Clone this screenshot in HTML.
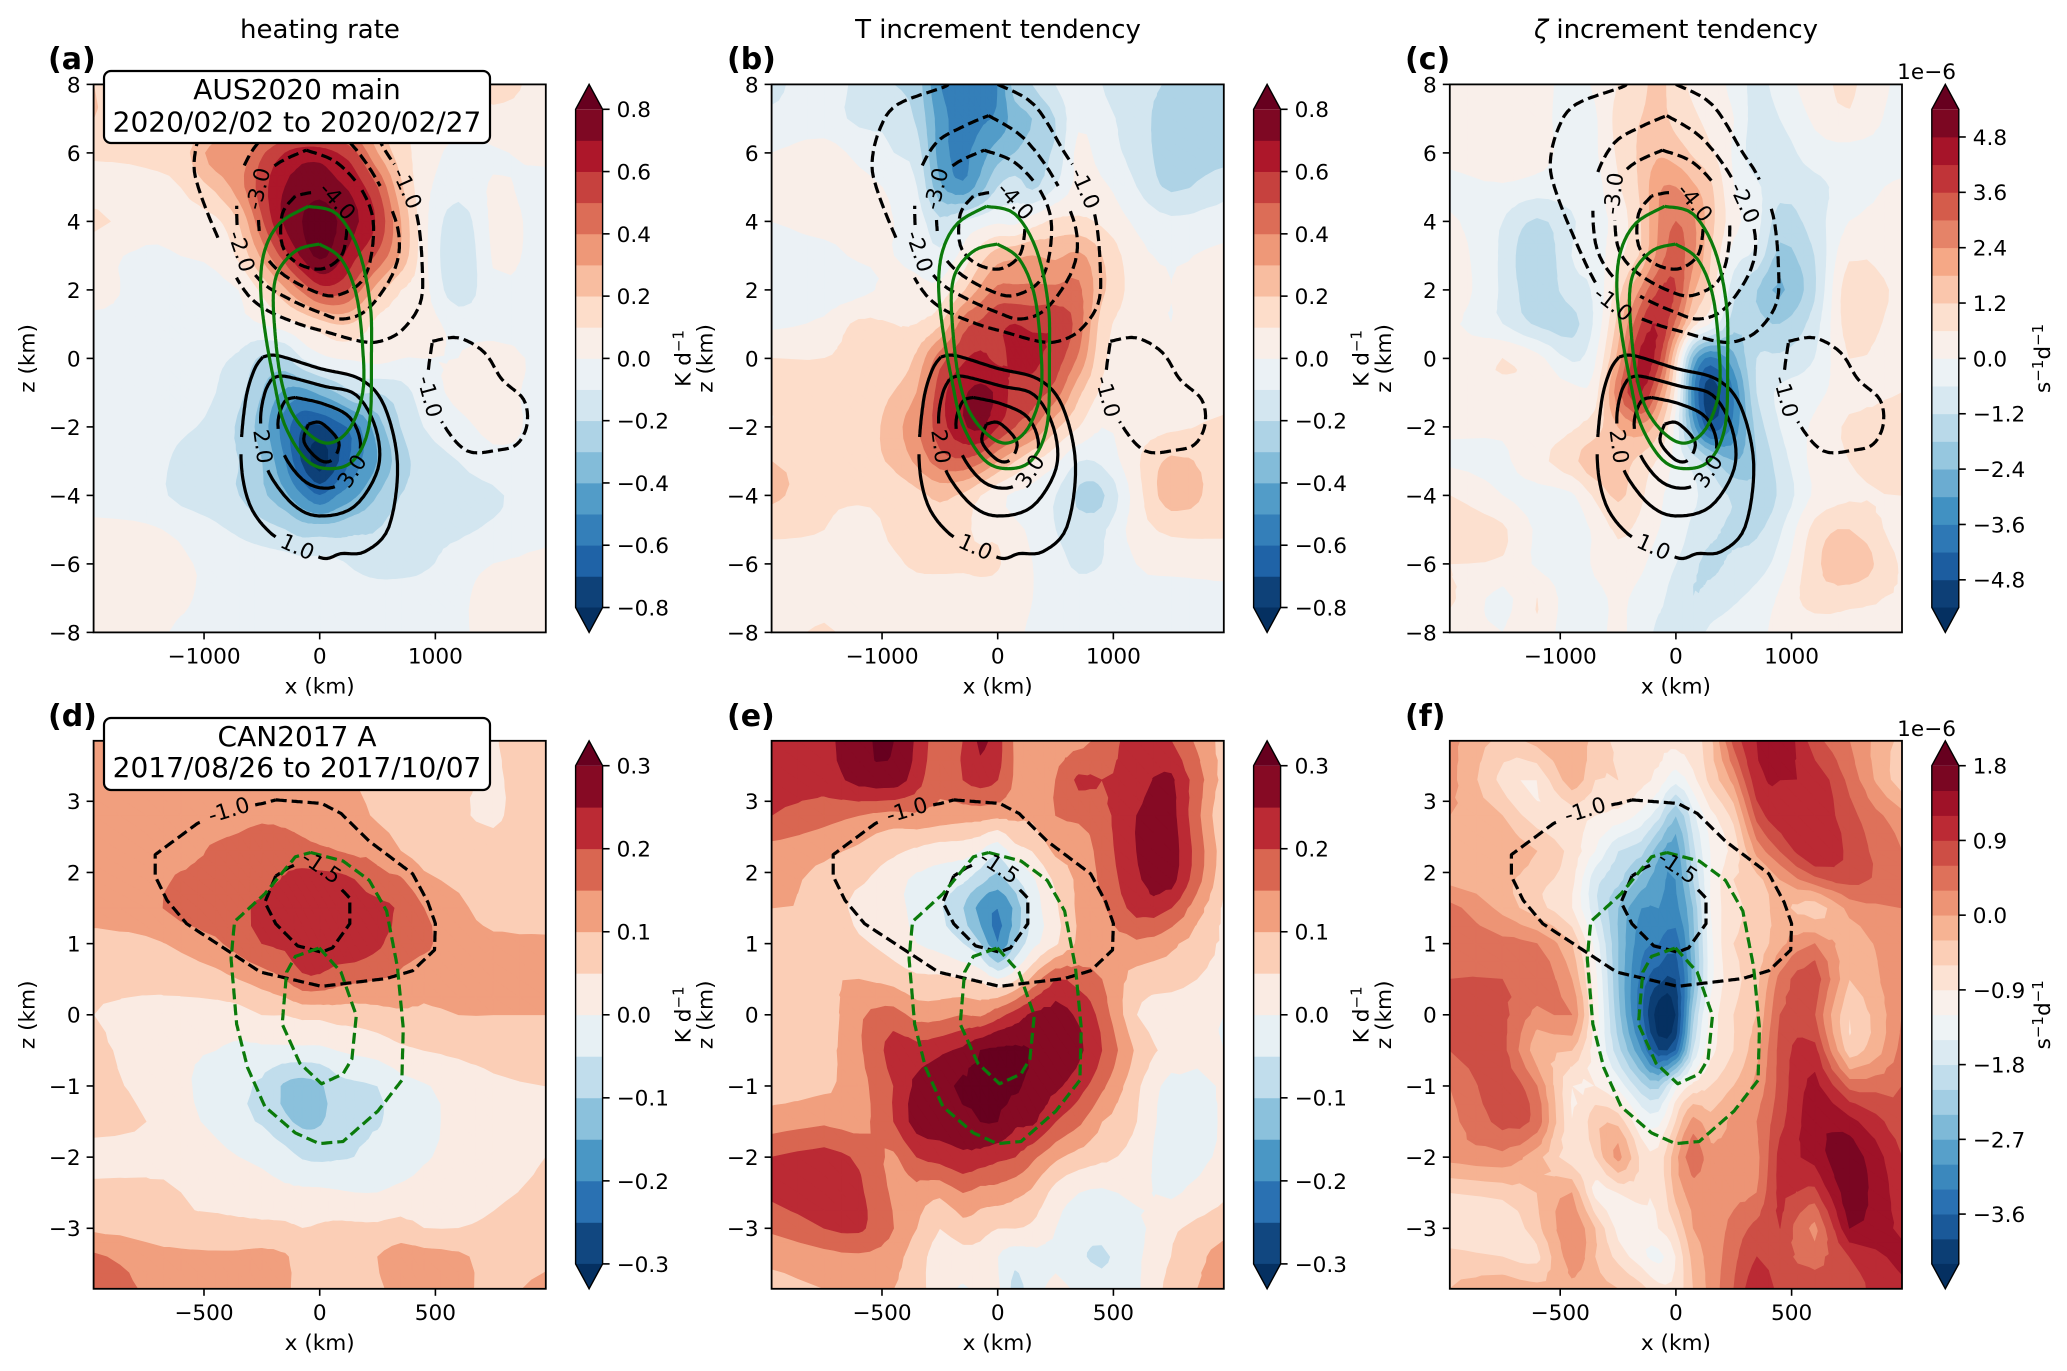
<!DOCTYPE html>
<html lang="en">
<head>
<meta charset="utf-8">
<title>Heating rate and increment tendency composites</title>
<style>
html,body{margin:0;padding:0;background:#fff;}
svg{display:block;font-family:"DejaVu Sans","Liberation Sans",sans-serif;}
</style>
</head>
<body>
<svg id="figure" xmlns="http://www.w3.org/2000/svg" width="2067" height="1371" viewBox="0 0 2067 1371">
<rect width="2067" height="1371" fill="#fff"/>
<defs id="defs"></defs>
<g id="plots"></g>
<g font-size="26" text-anchor="middle">
<text x="320" y="38">heating rate</text>
<text x="998" y="38">T increment tendency</text>
<text x="1676" y="38"><tspan font-style="italic">ζ</tspan> increment tendency</text>
</g>
<g font-size="30" font-weight="bold">
<text x="48" y="69">(a)</text>
<text x="727" y="69">(b)</text>
<text x="1405" y="69">(c)</text>
<text x="48" y="726">(d)</text>
<text x="727" y="726">(e)</text>
<text x="1405" y="726">(f)</text>
</g>
<g>
<rect x="104" y="71" width="386" height="72" rx="7" fill="#fff" stroke="#000" stroke-width="2.2"/>
<text x="297" y="99" font-size="28" text-anchor="middle">AUS2020 main</text>
<text x="297" y="131.5" font-size="28" text-anchor="middle">2020/02/02 to 2020/02/27</text>
</g>
<g>
<rect x="104" y="718" width="386" height="72" rx="7" fill="#fff" stroke="#000" stroke-width="2.2"/>
<text x="297" y="746" font-size="28" text-anchor="middle">CAN2017 A</text>
<text x="297" y="777" font-size="28" text-anchor="middle">2017/08/26 to 2017/10/07</text>
</g>
<g font-size="21.6" text-anchor="end">
<text x="1956" y="79">1e−6</text>
<text x="1956" y="736">1e−6</text>
</g>
</svg>
<script>
/* ---------- grids ---------- */
const xGridTop=[-1955,-1500,-1200,-900,-700,-500,-300,-150,0,150,300,500,700,900,1200,1500,1955];
const zGridTop=[8,7,6,5,4,3,2,1,0,-1,-2,-3,-4,-5,-6,-7,-8];
const xGridBottom=[-977,-750,-600,-450,-350,-250,-150,-75,0,75,150,250,350,450,600,750,977];
const zGridBottom=[3.85,3.3,2.8,2.3,1.9,1.5,1.0,0.5,0,-0.5,-1,-1.5,-2,-2.5,-3,-3.4,-3.85];

/* ---------- fields, rows top to bottom ---------- */
const heatingAus=[
[.2,.12,.1,.1,.1,.15,.15,.15,.15,.15,.15,.12,.08,.05,.05,.15,.05],
[.2,.12,.1,.15,.2,.25,.3,.3,.3,.3,.25,.2,.12,.06,.04,.06,.04],
[.12,.12,.15,.35,.33,.48,.6,.65,.65,.6,.52,.3,.15,.05,-.03,-.01,.02],
[.05,.07,.1,.22,.35,.55,.7,.74,.76,.72,.66,.5,.22,.03,-.06,.01,-.03],
[.12,.05,.05,.08,.2,.48,.72,.8,.85,.8,.72,.58,.3,.03,-.16,.02,-.03],
[.03,-.02,0,.02,.12,.32,.55,.72,.82,.74,.62,.48,.28,.03,-.2,.01,-.03],
[.03,-.03,-.03,-.02,0,.12,.28,.42,.55,.55,.45,.25,.1,.03,-.17,-.02,-.03],
[-.02,-.02,-.02,-.02,-.02,0,.05,.1,.15,.2,.18,.06,.03,.03,-.03,-.03,-.03],
[-.03,-.03,-.04,-.08,-.12,-.22,-.22,-.1,-.03,0,.01,.03,0,0,0,.03,-.02],
[-.03,-.03,-.05,-.1,-.17,-.3,-.42,-.45,-.38,-.3,-.2,-.2,-.15,-.05,.02,.02,-.02],
[-.03,-.03,-.08,-.13,-.22,-.35,-.55,-.7,-.72,-.65,-.55,-.35,-.2,-.1,-.03,.02,-.02],
[-.03,-.04,-.13,-.18,-.2,-.3,-.5,-.72,-.85,-.72,-.55,-.4,-.25,-.15,-.1,-.03,-.02],
[-.02,-.05,-.13,-.17,-.2,-.28,-.38,-.5,-.6,-.5,-.42,-.3,-.2,-.16,-.14,-.12,-.02],
[.01,.01,-.02,-.08,-.12,-.16,-.2,-.25,-.25,-.25,-.22,-.2,-.15,-.13,-.12,-.08,-.02],
[.02,.03,.01,-.02,-.04,-.05,-.06,-.07,-.07,-.08,-.12,-.16,-.15,-.12,-.05,0,.02],
[.02,.03,.01,-.02,-.03,-.03,-.03,-.03,-.03,-.03,-.03,-.03,-.03,-.03,-.02,.04,.03],
[.03,.02,-.01,-.02,-.03,-.03,-.03,-.03,-.03,-.03,-.03,-.03,-.03,-.03,-.01,.02,.03]];

const tempAus=[
[-.12,-.05,-.13,-.2,-.25,-.5,-.55,-.55,-.5,-.25,-.2,-.1,-.03,-.1,-.15,-.22,-.3],
[-.08,-.06,-.12,-.12,-.22,-.45,-.55,-.52,-.48,-.35,-.3,-.2,-.02,-.08,-.14,-.28,-.28],
[0,.04,-.03,-.1,-.15,-.45,-.52,-.45,-.35,-.3,-.25,-.18,.03,-.05,-.14,-.26,-.24],
[.02,.04,.03,-.02,-.1,-.38,-.48,-.35,-.2,-.15,-.22,-.1,.03,.02,-.1,-.22,-.14],
[0,.03,.02,0,-.05,-.18,-.1,-.05,-.02,-.03,.05,.12,.12,.08,-.02,-.08,-.05],
[-.05,-.03,.01,0,-.03,-.08,.03,.15,.25,.28,.3,.28,.32,.2,.03,-.01,.02],
[-.06,-.06,-.03,.03,.03,.03,.18,.32,.42,.42,.42,.42,.42,.22,.05,0,.03],
[-.02,.02,.12,.1,.1,.18,.45,.52,.58,.6,.58,.58,.45,.15,.03,0,.04],
[.1,.1,.13,.12,.22,.45,.58,.62,.58,.62,.62,.55,.38,.12,.02,.02,.04],
[.12,.12,.12,.2,.3,.55,.68,.72,.68,.55,.55,.45,.22,.08,.02,.05,.06],
[.1,.12,.13,.25,.38,.55,.68,.72,.6,.5,.42,.22,.1,0,.05,.08,.12],
[.2,.15,.15,.22,.32,.45,.48,.42,.3,.2,.1,.02,-.1,-.08,.08,.22,.15],
[.22,.13,.12,.13,.17,.22,.18,.1,.03,-.02,-.03,-.1,-.22,-.22,.05,.25,.15],
[.12,.1,.05,.12,.14,.16,.12,.08,.08,.02,-.02,-.1,-.15,-.12,.05,.12,.12],
[.06,.06,.07,.08,.12,.13,.12,.12,.11,.04,0,-.06,-.12,-.1,0,.03,.03],
[.03,.04,.03,.03,.03,.02,.03,.05,.04,.02,0,-.04,-.05,-.03,-.02,-.04,-.02],
[.03,.12,.03,.02,.02,.02,.02,.02,.02,.01,-.01,-.03,-.03,-.02,-.02,-.02,-.02]];

const zetaAus=[
[.3,.2,.3,-.3,.1,.6,1.0,1.4,.8,.5,.3,-.2,-.8,-.3,.3,.7,-.2],
[.2,.3,.3,-.4,-.1,.8,1.2,1.4,1.0,.7,.4,0,-.9,-.6,.1,.5,-.3],
[.2,.6,.3,-.3,-.1,.7,1.3,1.7,1.5,1.1,.7,-.1,-1.0,-.9,-.3,-.2,-.3],
[-.2,-.1,-.3,-.3,-.2,.5,1.3,2.3,2.4,1.9,1.3,0,-.5,-1.0,-.8,-.3,.1],
[.1,-.6,-1.3,-.7,-.2,.2,1.2,2.4,3.0,2.5,1.4,.2,-.4,-1.5,-.9,0,.2],
[.3,-.7,-1.8,-.6,-.3,.4,1.3,2.6,3.3,2.5,1.2,-.3,-.8,-2.0,-1.2,.5,.2],
[.4,-.7,-1.6,-.9,-.5,.9,2.5,3.6,3.6,1.9,.9,-1.0,-1.8,-2.5,-1.3,1.0,.4],
[.1,-.6,-1.3,-1.4,-.5,1.4,3.6,4.2,2.8,.8,-.1,-1.6,-1.6,-1.8,-.9,.9,.3],
[.2,.6,.2,-.7,-.1,2.0,4.4,3.8,1.0,-2.5,-3.8,-2.6,-1.2,-1.1,-.6,.6,.2],
[.2,.4,.4,.2,.3,2.8,4.2,2.6,.3,-3.5,-5.2,-3.6,-1.2,-.5,-.2,.4,.6],
[.1,.1,.2,.5,.9,1.8,2.2,1.4,-.3,-2.8,-4.6,-3.4,-1.6,-.6,.1,.7,.7],
[-.1,-.1,.4,1.0,1.6,1.5,1.0,.5,-.2,-.9,-1.6,-2.4,-1.8,-.9,.2,.6,1.0],
[.6,0,-.2,-.1,.7,1.3,.7,.1,-.2,-.5,-.9,-1.3,-1.6,-1.1,.1,.5,.6],
[1.0,.7,-.1,-.3,.1,.7,.4,0,-.2,-.8,-1.1,-1.3,-1.3,-.7,.8,1.2,.3],
[.6,.5,-.1,-.4,.1,.4,.1,-.3,-.6,-1.1,-1.3,-1.1,-.9,-.3,1.0,1.7,.5],
[.7,-.2,.6,-.4,-.2,.1,-.2,-.5,-.8,-1.2,-1.0,-.7,-.4,.1,.9,.8,.5],
[.3,0,.5,-.5,-.2,.1,-.3,-.7,-.6,-.8,-.5,-.3,-.2,.2,.2,.3,.4]];

const heatingCan=[
[.11,.11,.11,.11,.11,.11,.11,.11,.11,.11,.11,.11,.11,.11,.08,.048,.07],
[.11,.12,.12,.12,.12,.12,.12,.12,.11,.1,.1,.09,.09,.08,.06,.045,.07],
[.12,.12,.12,.12,.13,.14,.14,.14,.13,.13,.12,.09,.08,.07,.055,.045,.07],
[.12,.12,.125,.16,.17,.18,.17,.16,.155,.15,.14,.14,.1,.08,.07,.06,.07],
[.12,.12,.16,.17,.18,.18,.205,.225,.22,.215,.2,.16,.155,.11,.09,.07,.07],
[.11,.13,.17,.18,.19,.21,.235,.24,.24,.23,.22,.22,.19,.15,.11,.08,.07],
[.09,.09,.11,.14,.17,.2,.21,.23,.24,.23,.23,.21,.17,.16,.12,.11,.11],
[.06,.06,.07,.08,.1,.12,.15,.19,.19,.17,.16,.15,.14,.12,.12,.12,.12],
[.05,.04,.03,.03,.03,.05,.05,.06,.06,.07,.07,.08,.09,.09,.1,.1,.1],
[.06,.03,.01,0,-.01,-.01,-.01,-.01,-.01,0,.01,.02,.04,.05,.06,.07,.08],
[.06,.04,.01,-.02,-.04,-.06,-.11,-.125,-.11,-.07,-.06,-.05,-.02,-.005,.02,.04,.05],
[.06,.05,.02,-.015,-.04,-.055,-.09,-.11,-.105,-.08,-.06,-.055,-.03,-.01,.01,.03,.04],
[.04,.04,.04,.02,0,-.01,-.03,-.055,-.06,-.055,-.05,-.03,-.02,-.005,.015,.03,.05],
[.06,.06,.05,.04,.03,.02,.01,.01,.01,.005,0,0,.01,.02,.03,.04,.06],
[.09,.08,.06,.06,.06,.06,.06,.05,.055,.06,.06,.06,.07,.05,.05,.06,.08],
[.16,.12,.115,.11,.11,.115,.105,.08,.07,.07,.08,.1,.12,.12,.11,.08,.09],
[.2,.14,.12,.11,.11,.12,.11,.08,.08,.08,.08,.09,.12,.12,.11,.09,.11]];

const tempCan=[
[.22,.23,.29,.3,.24,.17,.2,.26,.22,.14,.12,.12,.13,.17,.22,.2,.08],
[.22,.22,.27,.28,.22,.16,.2,.22,.2,.14,.11,.15,.21,.2,.22,.26,.08],
[.2,.17,.15,.13,.14,.13,.12,.12,.11,.11,.11,.15,.16,.18,.25,.27,.05],
[.13,.11,.09,.06,.04,.02,.02,0,-.04,.03,.05,.11,.12,.17,.25,.28,.07],
[.11,.09,.06,.02,-.01,-.015,-.04,-.08,-.12,-.06,-.01,.06,.11,.16,.24,.27,.06],
[.1,.09,.03,.01,-.01,-.045,-.1,-.17,-.2,-.14,-.03,.04,.11,.14,.22,.2,.04],
[.07,.1,.06,.03,0,-.02,-.05,-.1,-.2,-.1,-.02,.04,.11,.12,.14,.11,.04],
[.06,.09,.1,.08,.06,.06,.05,.04,0,.04,.11,.2,.18,.15,.08,.07,.03],
[.07,.07,.14,.17,.13,.13,.15,.14,.18,.22,.26,.27,.24,.18,.05,.02,0],
[.05,.08,.14,.22,.22,.24,.26,.3,.31,.31,.3,.29,.26,.2,.09,.03,0],
[.08,.09,.13,.2,.26,.28,.31,.3,.31,.31,.28,.26,.22,.16,.06,-.02,.005],
[.12,.14,.13,.2,.27,.27,.28,.3,.3,.26,.26,.2,.16,.1,.05,-.03,.005],
[.2,.22,.19,.14,.2,.22,.24,.23,.21,.2,.16,.11,.08,.06,.03,-.03,.01],
[.21,.23,.21,.14,.13,.11,.15,.13,.13,.11,.09,.03,0,-.01,.01,-.01,.04],
[.16,.2,.21,.15,.1,.05,.08,.07,.05,.05,.04,0,-.03,-.03,-.015,.04,.08],
[.11,.13,.14,.12,.07,.03,.03,.03,0,-.03,-.02,-.01,-.04,-.06,-.01,.05,.12],
[.09,.1,.11,.1,.07,.02,-.005,.01,.01,-.07,-.02,.01,-.01,-.03,-.01,.07,.12]];

const zetaCan=[
[.1,-.4,-.2,-.1,-.4,-.7,-.8,-.8,-.8,-.7,-.4,.7,1.2,1.5,.7,.3,-.4],
[.1,-.7,-.9,-.1,-.6,-.6,-.8,-1.0,-1.4,-1.0,-.5,.1,1.1,1.2,1.1,.5,-.5],
[0,-.3,-.8,-.8,-.9,-1.0,-1.3,-1.7,-2.4,-1.6,-1,-.5,.7,1.1,1.1,.7,.1],
[0,-.1,-.3,-.7,-1.2,-1.8,-2.0,-2.6,-2.9,-1.9,-1.2,-.8,.1,.6,1.2,.8,.3],
[-.1,-.2,-.5,-.8,-1.7,-2.0,-2.5,-2.9,-3.0,-2.1,-1.2,-.6,-.4,0,.5,.7,.4],
[.4,-.1,-.5,-.9,-1.7,-2.4,-3.0,-3.0,-3.1,-2.4,-1.2,-.7,-.5,-.2,-.5,.1,.3],
[.5,.4,.3,-.3,-1.3,-2.4,-3.2,-3.3,-3.5,-2.5,-1.3,-.6,-.5,-.1,.3,-.2,.3],
[.6,.6,.5,0,-1.1,-2.4,-3.4,-3.8,-3.9,-2.6,-1.3,-.7,-.4,.4,.8,-.3,.3],
[.6,.7,.2,.3,-1.0,-2.3,-3.5,-4.4,-4.2,-2.2,-1.1,-.6,-.3,.6,.6,-.6,.3],
[.6,.7,-.2,-.3,-1.1,-2.0,-3.0,-3.9,-3.6,-1.8,-1.0,-.6,-.1,.7,1.0,-.5,.4],
[.3,.8,.3,-.9,-.9,-1.3,-2.0,-2.2,-1.3,-.8,-.6,-.3,.1,.7,1.3,.5,.6],
[.2,.7,.5,-.9,-.4,-.4,-1.2,-1.3,-.6,.1,-.2,.1,.3,.8,1.4,1.3,.7],
[.1,.2,-.2,-.8,-.6,.1,-.7,-.8,-.1,.5,.1,.1,.2,1.0,1.3,1.7,.9],
[-.6,-.5,-.3,0,-1.0,-.9,-.8,-.9,-.2,.1,.1,.2,.3,1.0,.8,1.7,1.0],
[-.8,-.9,-.4,.2,-.3,-1.0,-1.1,-.9,-.6,0,.1,.4,.7,.9,.2,1.5,1.1],
[-.5,-.6,-.7,.2,-.3,-.7,-1.1,-1.3,-.9,-.2,.1,.5,.9,.7,.5,.9,1.3],
[-.3,-.1,-.2,-.1,-.2,-.3,-.5,-.8,-.8,-.3,.1,.6,1.1,.8,.7,.8,1.1]];

/* ---------- contour levels ---------- */
const levelsHeatAus=[-.8,-.7,-.6,-.5,-.4,-.3,-.2,-.1,0,.1,.2,.3,.4,.5,.6,.7,.8];
const levelsZetaAus=[-5.4,-4.8,-4.2,-3.6,-3,-2.4,-1.8,-1.2,-.6,0,.6,1.2,1.8,2.4,3,3.6,4.2,4.8,5.4];
const levelsHeatCan=[-.3,-.25,-.2,-.15,-.1,-.05,0,.05,.1,.15,.2,.25,.3];
const levelsZetaCan=[-4.2,-3.9,-3.6,-3.3,-3,-2.7,-2.4,-2.1,-1.8,-1.5,-1.2,-.9,-.6,-.3,0,.3,.6,.9,1.2,1.5,1.8];

/* ---------- tick values and labels ---------- */
const ticksBarHeatAus=[-.8,-.6,-.4,-.2,0,.2,.4,.6,.8];
const labelsBarHeatAus=['−0.8','−0.6','−0.4','−0.2','0.0','0.2','0.4','0.6','0.8'];
const ticksBarZetaAus=[-4.8,-3.6,-2.4,-1.2,0,1.2,2.4,3.6,4.8];
const labelsBarZetaAus=['−4.8','−3.6','−2.4','−1.2','0.0','1.2','2.4','3.6','4.8'];
const ticksBarHeatCan=[-.3,-.2,-.1,0,.1,.2,.3];
const labelsBarHeatCan=['−0.3','−0.2','−0.1','0.0','0.1','0.2','0.3'];
const ticksBarZetaCan=[-3.6,-2.7,-1.8,-.9,0,.9,1.8];
const labelsBarZetaCan=['−3.6','−2.7','−1.8','−0.9','0.0','0.9','1.8'];
const xTicksTop=[-1000,0,1000];
const xTickLabelsTop=['−1000','0','1000'];
const zTicksTop=[-8,-6,-4,-2,0,2,4,6,8];
const zTickLabelsTop=['−8','−6','−4','−2','0','2','4','6','8'];
const xTicksBottom=[-500,0,500];
const xTickLabelsBottom=['−500','0','500'];
const zTicksBottom=[-3,-2,-1,0,1,2,3];
const zTickLabelsBottom=['−3','−2','−1','0','1','2','3'];

/* ---------- overlay contours in data units [x km, z km] ---------- */
const loop=p=>p.concat([p[0]]);
const uM1=[[0,8],[316,7.4],[579,6],[710,5.3],[842,4.15],[887,2.65],[868,1.6],[710,.82],[523,.5],[353,.5],[71,.76],[-192,1.02],[-492,1.48],[-680,2.13],[-868,3.43],[-1038,4.87],[-1086,5.72],[-1019,6.7],[-868,7.41],[-474,7.91],[-440,8]];
const uM2=loop([[-79,7.09],[222,6.44],[485,5.26],[673,3.83],[654,2.65],[429,1.48],[203,1.15],[0,1.34],[-267,1.74],[-511,2.26],[-680,3.17],[-718,4.41],[-680,5.39],[-530,6.3],[-305,6.76]]);
const uM3=loop([[-117,6.08],[147,5.72],[372,4.87],[466,3.83],[391,2.39],[147,1.84],[-79,2],[-342,2.52],[-492,3.17],[-530,4.09],[-530,5],[-380,5.65]]);
const uM4=loop([[-211,4.74],[-323,4.22],[-323,3.3],[-192,2.78],[15,2.61],[184,2.98],[233,3.69],[222,4.22],[109,4.74],[-60,4.84]]);
const uBlob=loop([[974,.5],[1199,.6],[1425,.17],[1575,-.61],[1763,-1.2],[1793,-1.92],[1707,-2.5],[1538,-2.68],[1274,-2.7],[1068,-1.92],[936,-.87]]);
const uP1=loop([[-492,.04],[-361,.08],[-4,-.29],[353,-.61],[560,-1.4],[673,-3.09],[598,-4.92],[391,-5.64],[184,-5.7],[34,-5.84],[-192,-5.5],[-417,-5.12],[-605,-4.27],[-680,-2.96],[-643,-1.27],[-568,-.35]]);
const uP2=loop([[-417,-.61],[-305,-.52],[34,-.81],[316,-1.07],[485,-2.05],[504,-3.22],[297,-4.33],[-4,-4.6],[-229,-4.27],[-436,-3.36],[-490,-2.57],[-511,-1.72],[-474,-1]]);
const uP3=loop([[-211,-1.14],[34,-1.33],[259,-1.72],[353,-2.5],[278,-3.29],[109,-3.77],[-117,-3.62],[-305,-2.83],[-361,-1.92],[-305,-1.27]]);
const uP4=loop([[-98,-1.92],[15,-1.89],[165,-2.44],[109,-2.96],[-4,-2.96],[-135,-2.44]]);
const uG1=loop([[-98,4.44],[147,4.22],[335,3.17],[436,1.6],[447,.04],[429,-1.92],[297,-2.96],[90,-3.22],[-117,-2.96],[-305,-1.92],[-398,-.61],[-474,.82],[-511,2.13],[-474,3.17],[-342,3.96]]);
const uG2=loop([[-4,3.34],[184,2.91],[316,1.87],[372,.3],[372,-1],[259,-2.05],[90,-2.47],[-79,-2.25],[-248,-1.53],[-342,-.48],[-391,.95],[-398,2],[-342,2.65],[-192,3.17]]);
const lM1=loop([[-190,3.02],[8,2.97],[92,2.83],[214,2.44],[402,1.98],[468,1.58],[500,1.28],[496,.91],[402,.62],[289,.51],[8,.4],[-256,.6],[-387,.88],[-575,1.28],[-660,1.61],[-711,1.95],[-711,2.25],[-528,2.69],[-393,2.88],[-246,2.97]]);
const lM15=loop([[-190,1.95],[-237,1.58],[-190,1.28],[-96,.97],[8,.88],[55,.94],[130,1.28],[130,1.64],[92,1.77],[8,2.08],[-68,2.16],[-133,2.07]]);
const lG1=loop([[-39,2.28],[101,2.16],[214,1.89],[289,1.46],[336,.67],[361,-.19],[355,-.92],[252,-1.35],[101,-1.78],[-2,-1.81],[-105,-1.66],[-237,-1.29],[-312,-.74],[-359,-.13],[-383,.79],[-368,1.31],[-237,1.7],[-105,2.22]]);
const lG2=loop([[-2,.94],[92,.6],[158,-.01],[139,-.62],[101,-.83],[8,-.97],[-86,-.68],[-162,-.13],[-143,.6],[-105,.82]]);

const dashedTop=[uM1,uM2,uM3,uM4,uBlob];
const solidTop=[uP1,uP2,uP3,uP4];
const greenTop=[uG1,uG2];
const dashedBottom=[lM1,lM15];
const greenBottom=[lG1,lG2];

/* ---------- inline contour labels: text, x km, z km ---------- */
const labelsAB=[['-1.0',767,5],['-2.0',-643,3.17],['-3.0',-530,4.93],['-4.0',120,4.48],['-1.0',974,-1.07],['1.0',-192,-5.5],['2.0',-485,-2.57],['3.0',278,-3.29]];
const labelsC=[['-1.0',-545,1.6],['-2.0',613,4.6],['-3.0',-515,4.8],['-4.0',124,4.45],['-1.0',989,-1.07],['1.0',-195,-5.5],['2.0',-485,-2.57],['3.0',274,-3.29]];
const labelsLower=[['-1.0',-393,2.88],['-1.5',8,2.08]];

/* ---------- colormap ---------- */
const rdBuAnchors=['#053061','#2166ac','#4393c3','#92c5de','#d1e5f0','#f7f7f7','#fddbc7','#f4a582','#d6604d','#b2182b','#67001f'];
function rgb(h){return [1,3,5].map(i=>parseInt(h.substr(i,2),16));}
function cmap(t){
  const s=Math.max(0,Math.min(1,t))*10,i=Math.min(9,Math.floor(s)),f=s-i,a=rgb(rdBuAnchors[i]),b=rgb(rdBuAnchors[i+1]);
  return 'rgb('+a.map((v,k)=>Math.round(v+(b[k]-v)*f)).join(',')+')';
}
function bandColor(k,n){return k===0?cmap(0):k===n+1?cmap(1):cmap((k-.5)/n);}

/* ---------- svg helper ---------- */
const NS='http://www.w3.org/2000/svg';
function mk(tag,attrs,parent){
  const e=document.createElementNS(NS,tag);
  for(const k in attrs)e.setAttribute(k,attrs[k]);
  if(parent)parent.appendChild(e);
  return e;
}
const plots=document.getElementById('plots');
const defs=document.getElementById('defs');

/* ---------- field refinement and isobands ---------- */
function cr(a,b,c,d,t){return .5*(2*b+(c-a)*t+(2*a-5*b+4*c-d)*t*t+(3*b-a-3*c+d)*t*t*t);}
function resample1(arr,R){
  const out=[],n=arr.length;
  for(let i=0;i<n-1;i++){
    for(let s=0;s<R;s++){
      out.push(cr(arr[Math.max(0,i-1)],arr[i],arr[i+1],arr[Math.min(n-1,i+2)],s/R));
    }
  }
  out.push(arr[n-1]);
  return out;
}
function linear1(arr,R){
  const out=[];
  for(let i=0;i<arr.length-1;i++)for(let s=0;s<R;s++)out.push(arr[i]+(arr[i+1]-arr[i])*s/R);
  out.push(arr[arr.length-1]);
  return out;
}
function refineField(f,R){
  const rows=f.map(r=>resample1(r,R));
  const cols=rows[0].map((_,j)=>resample1(rows.map(r=>r[j]),R));
  return cols[0].map((_,i)=>cols.map(c=>c[i]));
}
function clipPoly(poly,lev,above){
  const out=[];
  for(let i=0;i<poly.length;i++){
    const a=poly[i],b=poly[(i+1)%poly.length];
    const ia=above?a[2]>=lev:a[2]<=lev,ib=above?b[2]>=lev:b[2]<=lev;
    if(ia)out.push(a);
    if(ia!==ib){
      const t=(lev-a[2])/(b[2]-a[2]);
      out.push([a[0]+(b[0]-a[0])*t,a[1]+(b[1]-a[1])*t,lev]);
    }
  }
  return out;
}
function drawField(g,field,xg,zg,levels,sx,sz,R){
  const F=refineField(field,R),X=linear1(xg,R),Z=linear1(zg,R);
  const n=levels.length-1,paths=[];
  for(let k=0;k<=n+1;k++)paths.push([]);
  function tri(T){
    for(let k=0;k<=n+1;k++){
      const lo=k===0?-Infinity:levels[k-1],hi=k===n+1?Infinity:levels[k];
      const mn=Math.min(T[0][2],T[1][2],T[2][2]),mx=Math.max(T[0][2],T[1][2],T[2][2]);
      if(mx<lo||mn>hi)continue;
      let p=T;
      if(lo>-Infinity)p=clipPoly(p,lo,true);
      if(p.length&&hi<Infinity)p=clipPoly(p,hi,false);
      if(p.length>2)paths[k].push('M'+p.map(q=>q[0].toFixed(1)+' '+q[1].toFixed(1)).join('L')+'Z');
    }
  }
  for(let r=0;r<Z.length-1;r++)for(let c=0;c<X.length-1;c++){
    const a=[sx(X[c]),sz(Z[r]),F[r][c]],b=[sx(X[c+1]),sz(Z[r]),F[r][c+1]],d=[sx(X[c]),sz(Z[r+1]),F[r+1][c]],e=[sx(X[c+1]),sz(Z[r+1]),F[r+1][c+1]];
    tri([a,b,e]);tri([a,e,d]);
  }
  paths.forEach((list,k)=>{
    if(!list.length)return;
    const col=bandColor(k,n);
    const b=mk('path',{d:list.join(''),fill:col,stroke:col,'stroke-width':.7,'stroke-linejoin':'round'},g);
    
    
  });
}

/* ---------- contour lines ---------- */
function smoothLine(pts){
  const out=[],n=pts.length;
  for(let i=0;i<n-1;i++){
    const a=pts[Math.max(0,i-1)],b=pts[i],c=pts[i+1],d=pts[Math.min(n-1,i+2)];
    for(let s=0;s<6;s++){const t=s/6;out.push([cr(a[0],b[0],c[0],d[0],t),cr(a[1],b[1],c[1],d[1],t)]);}
  }
  out.push(pts[n-1]);
  return out;
}
function densify(pts){
  const out=[];
  for(let i=0;i<pts.length-1;i++){
    const a=pts[i],b=pts[i+1],L=Math.hypot(b[0]-a[0],b[1]-a[1]),m=Math.max(1,Math.ceil(L/2));
    for(let s=0;s<m;s++)out.push([a[0]+(b[0]-a[0])*s/m,a[1]+(b[1]-a[1])*s/m]);
  }
  out.push(pts[pts.length-1]);
  return out;
}
function toPixels(line,sx,sz,smooth){
  const p=line.map(q=>[sx(q[0]),sz(q[1])]);
  return densify(smooth?smoothLine(p):p);
}
function placeLabels(lines,labels,sx,sz){
  return labels.map(l=>{
    const tx=sx(l[1]),ty=sz(l[2]);
    let best=1e9,px=tx,py=ty,ang=0;
    lines.forEach(L=>{
      L.forEach((q,i)=>{
        const d=Math.hypot(q[0]-tx,q[1]-ty);
        if(d<best){
          best=d;px=q[0];py=q[1];
          const a=L[Math.max(0,i-6)],b=L[Math.min(L.length-1,i+6)];
          ang=Math.atan2(b[1]-a[1],b[0]-a[0])*180/Math.PI;
        }
      });
    });
    if(ang>90)ang-=180;
    if(ang<-90)ang+=180;
    return {text:l[0],x:px,y:py,angle:ang,half:(7*l[0].length+11)/2+7};
  });
}
function pathWithGaps(L,placed){
  let d='',pen=false;
  L.forEach(q=>{
    const hidden=placed.some(p=>Math.hypot(q[0]-p.x,q[1]-p.y)<p.half);
    if(hidden){pen=false;return;}
    d+=(pen?'L':'M')+q[0].toFixed(1)+' '+q[1].toFixed(1);
    pen=true;
  });
  return d;
}

/* ---------- panels ---------- */
const AX_W=452.2,AX_H=548;
const columns=[93.6,771.6,1449.8];
const rowTops=[84.4,740.8];
const panelSpecs=[
 {id:'a',col:0,row:0,field:heatingAus,levels:levelsHeatAus,ticks:ticksBarHeatAus,tl:labelsBarHeatAus,labels:labelsAB,unit:'K'},
 {id:'b',col:1,row:0,field:tempAus,levels:levelsHeatAus,ticks:ticksBarHeatAus,tl:labelsBarHeatAus,labels:labelsAB,unit:'K'},
 {id:'c',col:2,row:0,field:zetaAus,levels:levelsZetaAus,ticks:ticksBarZetaAus,tl:labelsBarZetaAus,labels:labelsC,unit:'s'},
 {id:'d',col:0,row:1,field:heatingCan,levels:levelsHeatCan,ticks:ticksBarHeatCan,tl:labelsBarHeatCan,labels:labelsLower,unit:'K'},
 {id:'e',col:1,row:1,field:tempCan,levels:levelsHeatCan,ticks:ticksBarHeatCan,tl:labelsBarHeatCan,labels:labelsLower,unit:'K'},
 {id:'f',col:2,row:1,field:zetaCan,levels:levelsZetaCan,ticks:ticksBarZetaCan,tl:labelsBarZetaCan,labels:labelsLower,unit:'s'}
];

panelSpecs.forEach(P=>{
  const left=columns[P.col],top=rowTops[P.row],upper=P.row===0;
  const xg=upper?xGridTop:xGridBottom,zg=upper?zGridTop:zGridBottom;
  const xMax=xg[xg.length-1],zMax=zg[0];
  const sx=x=>left+(x+xMax)/(2*xMax)*AX_W;
  const sz=z=>top+(zMax-z)/(2*zMax)*AX_H;
  const group=mk('g',{},plots);
  
  

  const clip=mk('clipPath',{id:'clip-'+P.id},defs);
  mk('rect',{x:left,y:top,width:AX_W,height:AX_H},clip);

  const fieldGroup=mk('g',{'clip-path':'url(#clip-'+P.id+')'},group);
  
  
  drawField(fieldGroup,P.field,xg,zg,P.levels,sx,sz,upper?3:2);

  const lineGroup=mk('g',{'clip-path':'url(#clip-'+P.id+')',fill:'none','stroke-linejoin':'round'},group);
  
  

  const dashedPx=(upper?dashedTop:dashedBottom).map(l=>toPixels(l,sx,sz,upper));
  const solidPx=(upper?solidTop:[]).map(l=>toPixels(l,sx,sz,upper));
  const greenPx=(upper?greenTop:greenBottom).map(l=>toPixels(l,sx,sz,upper));
  const placed=placeLabels(dashedPx.concat(solidPx),P.labels,sx,sz);

  dashedPx.forEach(L=>{
    const c=mk('path',{d:pathWithGaps(L,placed),stroke:'#000','stroke-width':3.2,'stroke-dasharray':'11 5'},lineGroup);
    
    
  });
  solidPx.forEach(L=>{
    const c=mk('path',{d:pathWithGaps(L,placed),stroke:'#000','stroke-width':3.2},lineGroup);
    
    
  });
  greenPx.forEach(L=>{
    const c=mk('path',{d:pathWithGaps(L,[]),stroke:'#0b7a0b','stroke-width':3.2},lineGroup);
    if(!upper)c.setAttribute('stroke-dasharray','11 5');
    
    
  });

  placed.forEach(p=>{
    const t=mk('text',{transform:'translate('+p.x.toFixed(1)+','+p.y.toFixed(1)+') rotate('+p.angle.toFixed(1)+')','text-anchor':'middle',y:7.5,'font-size':21.6},group);
    t.textContent=p.text;
    
    
  });

  const spine=mk('rect',{x:left,y:top,width:AX_W,height:AX_H,fill:'none',stroke:'#000','stroke-width':1.8},group);
  
  

  /* x ticks */
  const xT=upper?xTicksTop:xTicksBottom,xL=upper?xTickLabelsTop:xTickLabelsBottom;
  xT.forEach((v,i)=>{
    const tick=mk('line',{x1:sx(v),x2:sx(v),y1:top+AX_H,y2:top+AX_H+7,stroke:'#000','stroke-width':1.6},group);
    
    
    const lab=mk('text',{x:sx(v),y:top+AX_H+31,'text-anchor':'middle','font-size':21.6},group);
    lab.textContent=xL[i];
    
    
  });
  /* z ticks */
  const zT=upper?zTicksTop:zTicksBottom,zL=upper?zTickLabelsTop:zTickLabelsBottom;
  zT.forEach((v,i)=>{
    const tick=mk('line',{x1:left-7,x2:left,y1:sz(v),y2:sz(v),stroke:'#000','stroke-width':1.6},group);
    
    
    const lab=mk('text',{x:left-13,y:sz(v)+7.9,'text-anchor':'end','font-size':21.6},group);
    lab.textContent=zL[i];
    
    
  });
  const xTitle=mk('text',{x:left+AX_W/2,y:top+AX_H+61,'text-anchor':'middle','font-size':21.6},group);
  xTitle.textContent='x (km)';
  
  
  const zTitle=mk('text',{transform:'translate('+(left-59)+','+(top+AX_H/2)+') rotate(-90)','text-anchor':'middle','font-size':21.6},group);
  zTitle.textContent='z (km)';
  
  

  /* colorbar */
  const cbX=left+482,cbW=27,ext=24.9;
  const bodyTop=top+ext,bodyBot=top+AX_H-ext;
  const L0=P.levels[0],L1=P.levels[P.levels.length-1];
  const cy=v=>bodyBot-(v-L0)/(L1-L0)*(bodyBot-bodyTop);
  const cb=mk('g',{},group);
  
  
  const n=P.levels.length-1;
  for(let k=1;k<=n;k++){
    const s=mk('rect',{x:cbX,y:cy(P.levels[k]),width:cbW,height:cy(P.levels[k-1])-cy(P.levels[k])+.4,fill:bandColor(k,n)},cb);
    
    
  }
  const up=mk('polygon',{points:cbX+','+bodyTop+' '+(cbX+cbW/2)+','+top+' '+(cbX+cbW)+','+bodyTop,fill:bandColor(n+1,n)},cb);
  
  
  const dn=mk('polygon',{points:cbX+','+bodyBot+' '+(cbX+cbW/2)+','+(top+AX_H)+' '+(cbX+cbW)+','+bodyBot,fill:bandColor(0,n)},cb);
  
  
  const outline=mk('polygon',{points:[[cbX,bodyTop],[cbX+cbW/2,top],[cbX+cbW,bodyTop],[cbX+cbW,bodyBot],[cbX+cbW/2,top+AX_H],[cbX,bodyBot]].map(q=>q.join(',')).join(' '),fill:'none',stroke:'#000','stroke-width':1.4},cb);
  
  
  P.ticks.forEach((v,i)=>{
    const tick=mk('line',{x1:cbX+cbW,x2:cbX+cbW+7,y1:cy(v),y2:cy(v),stroke:'#000','stroke-width':1.6},cb);
    
    
    const lab=mk('text',{x:cbX+cbW+14,y:cy(v)+7.9,'font-size':21.6},cb);
    lab.textContent=P.tl[i];
    
    
  });
  const unit=mk('text',{transform:'translate('+(left+(P.unit==='K'?597:600))+','+(top+AX_H/2)+') rotate(-90)','text-anchor':'middle','font-size':21.6},group);
  if(P.unit==='K'){
    unit.appendChild(document.createTextNode('K d'));
  }else{
    unit.appendChild(document.createTextNode('s'));
    const s1=mk('tspan',{dy:-7,'font-size':15},unit);
    s1.textContent='−1';
    const d1=mk('tspan',{dy:7},unit);
    d1.textContent='d';
  }
  const sup=mk('tspan',{dy:-7,'font-size':15},unit);
  sup.textContent='−1';
  
  
});
</script>
</body>
</html>
